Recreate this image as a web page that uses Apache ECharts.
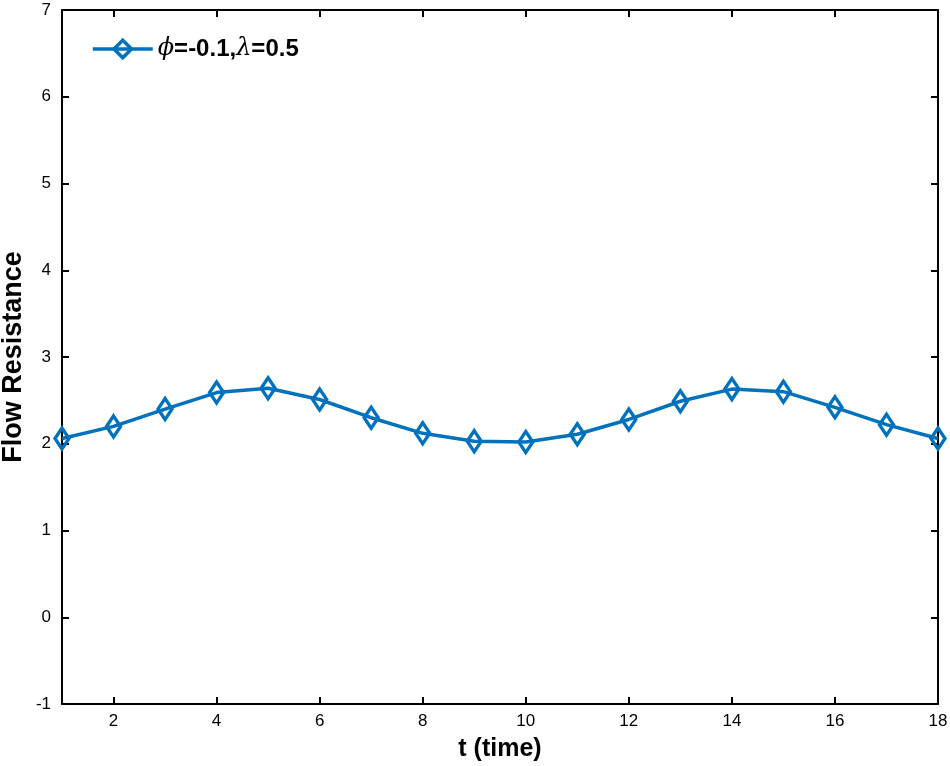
<!DOCTYPE html>
<html>
<head>
<meta charset="utf-8">
<script src="https://cdn.jsdelivr.net/npm/echarts@6/dist/echarts.min.js"></script>
<style>
html,body{margin:0;padding:0;background:#fff;}
#c{width:950px;height:766px;}
</style>
</head>
<body>
<div id="c"></div>
<script>
const tValues = [1,2,3,4,5,6,7,8,9,10,11,12,13,14,15,16,17,18];
const resistance = [2.06,2.20,2.40,2.59,2.64,2.51,2.30,2.12,2.03,2.02,2.11,2.28,2.49,2.63,2.60,2.42,2.22,2.06];
const xTicks = [2,4,6,8,10,12,14,16,18];
const yTicks = [-1,0,1,2,3,4,5,6,7];
const seriesName = 'phi=-0.1,lambda=0.5';

const FONT = '"Liberation Sans", Arial, Helvetica, sans-serif';
const BLUE = '#0072BD';
const axisLine = {show:true, onZero:false, lineStyle:{color:'#000', width:2}};
const tickStyle = {inside:true, length:7, lineStyle:{color:'#000', width:2}};

const chart = echarts.init(document.getElementById('c'), null, {renderer:'canvas'});
chart.setOption({
  backgroundColor:'#fff',
  animation:false,
  textStyle:{fontFamily:FONT},
  grid:{left:62, right:12, top:10, bottom:62, containLabel:false, outerBoundsMode:'none'},
  legend:{
    left:86, top:32,
    itemWidth:60, itemHeight:22,
    itemGap:0,
    data:[seriesName],
    lineStyle:{color:BLUE, width:3.5},
    itemStyle:{color:'rgba(255,255,255,0)', borderColor:BLUE, borderWidth:3.5},
    formatter:function(){ return '{i|\u03D5}{b|=-0.1,}{i|\u03BB}{b|=0.5}'; },
    textStyle:{
      fontFamily:FONT, color:'#000', padding:[0,0,0,0],
      rich:{
        i:{fontFamily:'"DejaVu Serif", serif', fontStyle:'italic', fontSize:24, color:'#000'},
        b:{fontFamily:FONT, fontWeight:'bold', fontSize:24, color:'#000'}
      }
    }
  },
  xAxis:[{
    type:'value', min:1, max:18,
    name:'t (time)', nameLocation:'middle', nameGap:33, nameMoveOverlap:false,
    nameTextStyle:{fontFamily:FONT, fontWeight:'bold', fontSize:25, color:'#000'},
    axisLine:axisLine,
    axisTick:Object.assign({customValues:xTicks}, tickStyle),
    axisLabel:{customValues:xTicks, fontFamily:FONT, fontSize:17, color:'#000', margin:9},
    splitLine:{show:false}
  },{
    type:'value', min:1, max:18, position:'top',
    axisLine:axisLine,
    axisTick:Object.assign({customValues:xTicks}, tickStyle),
    axisLabel:{show:false, customValues:xTicks},
    splitLine:{show:false}
  }],
  yAxis:[{
    type:'value', min:-1, max:7, interval:1,
    name:'Flow Resistance', nameLocation:'middle', nameGap:35, nameRotate:90, nameMoveOverlap:false,
    nameTextStyle:{fontFamily:FONT, fontWeight:'bold', fontSize:27, color:'#000'},
    axisLine:axisLine,
    axisTick:tickStyle,
    axisLabel:{fontFamily:FONT, fontSize:17, color:'#000', margin:11},
    splitLine:{show:false}
  },{
    type:'value', min:-1, max:7, interval:1, position:'right',
    axisLine:axisLine,
    axisTick:tickStyle,
    axisLabel:{show:false},
    splitLine:{show:false}
  }],
  series:[{
    name:seriesName,
    type:'line',
    xAxisIndex:0, yAxisIndex:0,
    data:tValues.map((t,i)=>[t,resistance[i]]),
    symbol:'diamond',
    symbolSize:[14,21],
    showAllSymbol:true,
    lineStyle:{color:BLUE, width:3.5},
    itemStyle:{color:'rgba(255,255,255,0)', borderColor:BLUE, borderWidth:3.5},
    clip:false
  }]
});
</script>
</body>
</html>
